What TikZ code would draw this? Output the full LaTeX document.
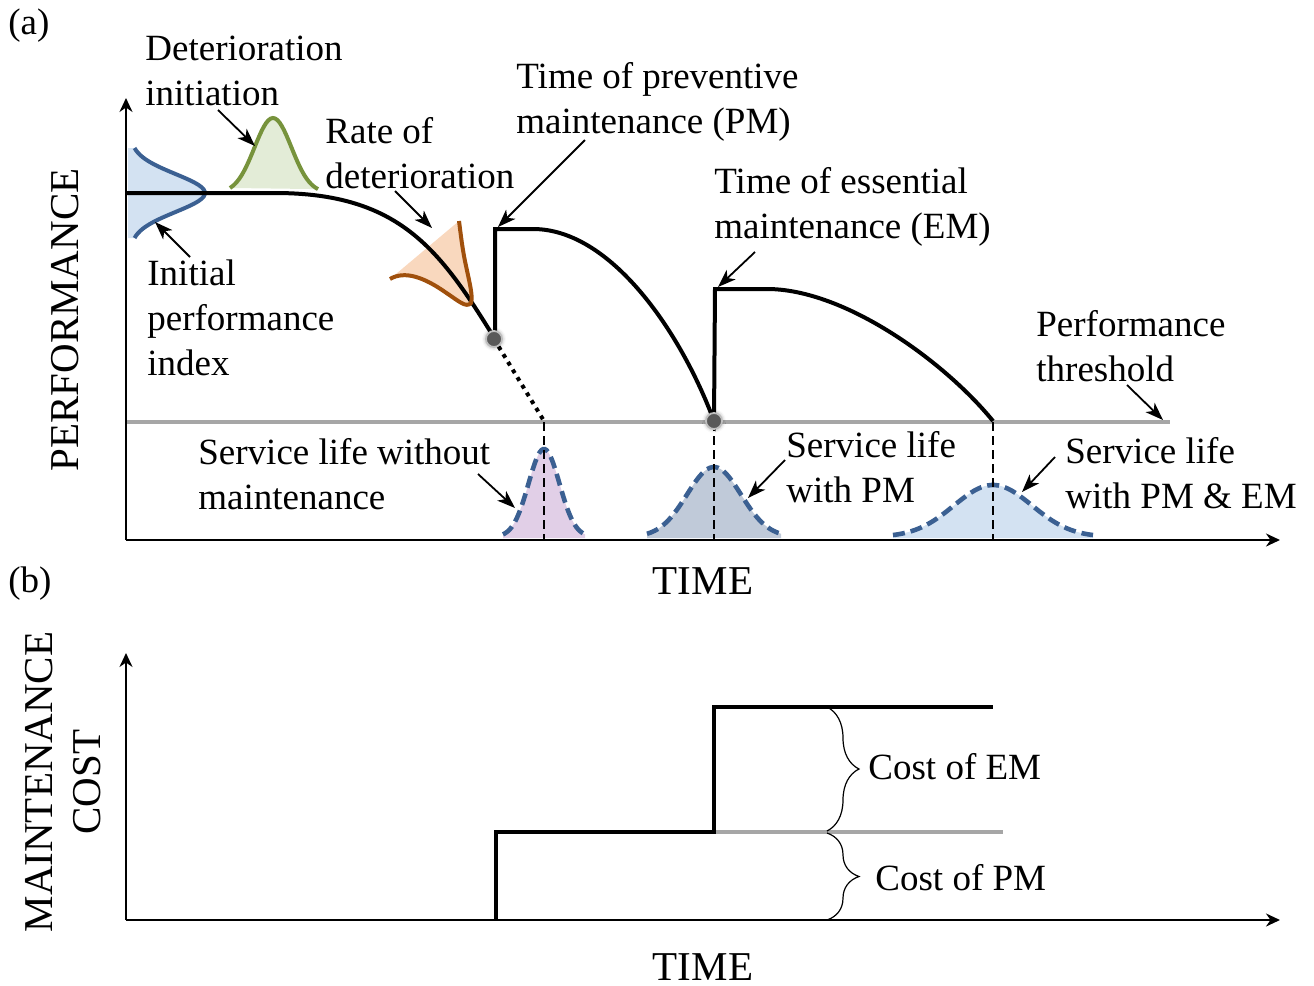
\documentclass[tikz,border=0pt]{standalone}
\usepackage{fontspec}
\setmainfont{Liberation Serif}
\usetikzlibrary{arrows.meta,decorations.pathreplacing,shadows.blur}
\definecolor{bellblue}{RGB}{59,96,146}
\definecolor{bluefill}{RGB}{211,226,242}
\definecolor{greenline}{RGB}{119,147,60}
\definecolor{greenfill}{RGB}{227,236,215}
\definecolor{orangeline}{RGB}{160,80,12}
\definecolor{orangefill}{RGB}{249,216,190}
\definecolor{lilacfill}{RGB}{225,207,231}
\definecolor{slatefill}{RGB}{192,202,217}
\definecolor{limitgray}{RGB}{166,166,166}
\tikzset{
    txt/.style={font=\fontsize{18.5}{22.5}\selectfont, inner sep=0pt, align=left, anchor=base west},
    axtxt/.style={font=\fontsize{20.5}{24}\selectfont, inner sep=0pt},
    perf/.style={line width=2pt},
    pointer/.style={-{Stealth[length=9pt,width=6.5pt,inset=2.5pt]}, line width=0.9pt},
    axisline/.style={-{Stealth[length=7pt,width=6.5pt]}, line width=1.2pt},
    lifebell/.style={draw=bellblue, line width=2.3pt, dash pattern=on 6pt off 3pt},
    guide/.style={line width=1.2pt, dash pattern=on 4.5pt off 2.5pt},
    hit/.style={circle, fill=black!65, draw=black!25, line width=0.9pt, minimum size=8pt, inner sep=0pt,
        blur shadow={shadow xshift=0pt, shadow yshift=0pt, shadow blur radius=2pt}}
}
\begin{document}
\begin{tikzpicture}[x=0.5pt, y=-0.5pt]
	\useasboundingbox (0,0) rectangle (1314,986);
	% (a) performance profile
	\draw[limitgray, line width=2pt] (126,422) -- (1170,422);
	\fill[bluefill] (128,148) -- plot[variable=\t, domain=148:238, samples=40] ({130+75*exp(-(\t-193)*(\t-193)/722)}, \t) -- (128,238) -- cycle;
	\draw[bellblue, line width=2pt] plot[variable=\t, domain=148:238, samples=40] ({130+75*exp(-(\t-193)*(\t-193)/722)}, \t);
	\fill[greenfill] plot[domain=230:318, samples=40] (\x, {193-75*exp(-(\x-273)*(\x-273)/684.5)}) -- cycle;
	\draw[greenline, line width=2pt] plot[domain=230:318, samples=40] (\x, {193-75*exp(-(\x-273)*(\x-273)/684.5)});
	\fill[orangefill] (390,279) .. controls (405,270) and (425,278) .. (445,292) .. controls (460,302) and (466,308) .. (471,303) .. controls (474,295) and (466,270) .. (463,250) .. controls (461,238) and (460,228) .. (459,221) -- cycle;
	\fill[lilacfill] (503,538) -- plot[domain=503:585, samples=50] (\x, {537-88*exp(-(\x-544)*(\x-544)/480)}) -- (585,538) -- cycle;
	\fill[slatefill] (647,538) -- plot[domain=647:781, samples=50] (\x, {537-70*exp(-(\x-714)*(\x-714)/1458)}) -- (781,538) -- cycle;
	\fill[bluefill] (893,538) -- plot[domain=893:1093, samples=60] (\x, {537-52*exp(-(\x-993)*(\x-993)/3042)}) -- (1093,538) -- cycle;
	\draw[lifebell] plot[domain=503:585, samples=50] (\x, {537-88*exp(-(\x-544)*(\x-544)/480)});
	\draw[lifebell] plot[domain=647:781, samples=50] (\x, {537-70*exp(-(\x-714)*(\x-714)/1458)});
	\draw[lifebell] plot[domain=893:1093, samples=60] (\x, {537-52*exp(-(\x-993)*(\x-993)/3042)});
	\draw[guide] (544,422) -- (544,540);
	\draw[guide] (714,422) -- (714,540);
	\draw[guide] (993,422) -- (993,540);
	\draw[perf] (126,193) -- (275,193) .. controls (400,193) and (440,250) .. (495,339) -- (495,229) -- (533,229)
		.. controls (610,229) and (680,330) .. (714,421) -- (715,289) -- (767,289)
		.. controls (845,289) and (945,362) .. (993,421);
	\draw[orangeline, line width=2pt] (390,279) .. controls (405,270) and (425,278) .. (445,292) .. controls (460,302) and (466,308) .. (471,303) .. controls (474,295) and (466,270) .. (463,250) .. controls (461,238) and (460,228) .. (459,221);
	\node[hit] (pmdot) at (494,339) {};
	\node[hit] (emdot) at (714,421) {};
	\coordinate (nolife) at (544,421);
	\draw[line width=2pt, dash pattern=on 2pt off 2.5pt] (pmdot) -- (nolife);
	\draw[axisline] (126,540) -- (126,98);
	\draw[axisline] (126,540) -- (1280,540);
	% labels
	\node[txt] (panela) at (8,34) {(a)};
	\node[txt] (initiation) at (145,105) {Deterioration\\initiation};
	\node[txt] (rate) at (325,188) {Rate of\\deterioration};
	\node[txt] (pmtime) at (516,133) {Time of preventive\\maintenance (PM)};
	\node[txt] (emtime) at (714,238) {Time of essential\\maintenance (EM)};
	\node[txt] (initial) at (147,375) {Initial\\performance\\index};
	\node[txt] (thresh) at (1036,381) {Performance\\threshold};
	\node[txt] (slnone) at (198,509) {Service life without\\maintenance};
	\node[txt] (slpm) at (786,502) {Service life\\with PM};
	\node[txt] (slpmem) at (1065,508) {Service life\\with PM \& EM};
	\node[axtxt, rotate=90, anchor=base] (perflbl) at (78,320) {PERFORMANCE};
	\node[axtxt, anchor=base] (timea) at (703,594) {TIME};
	\coordinate (initiationT) at (218,110); \coordinate (initiationH) at (255,146);
	\coordinate (initialT) at (190,257);    \coordinate (initialH) at (155,222);
	\coordinate (rateT) at (395,191);       \coordinate (rateH) at (432,228);
	\coordinate (pmT) at (585,140);         \coordinate (pmH) at (498,227);
	\coordinate (emT) at (755,252);         \coordinate (emH) at (718,287);
	\coordinate (threshT) at (1127,385);    \coordinate (threshH) at (1163,420);
	\coordinate (slnoneT) at (478,474);     \coordinate (slnoneH) at (515,508);
	\coordinate (slpmT) at (785,460);       \coordinate (slpmH) at (748,498);
	\coordinate (slpmemT) at (1055,457);    \coordinate (slpmemH) at (1022,492);
	\foreach \p in {initiation,initial,rate,pm,em,thresh,slnone,slpm,slpmem}
		\draw[pointer] (\p T) -- (\p H);
	% (b) maintenance cost
	\node[txt] (panelb) at (8,592) {(b)};
	\draw[limitgray, line width=1.6pt] (714,832) -- (1003,832);
	\draw[line width=1.6pt] (496,920) -- (496,832) -- (714,832) -- (714,707) -- (993,707);
	\draw[decorate, decoration={brace, amplitude=16pt}, line width=0.6pt] (827,707) -- (827,831);
	\draw[decorate, decoration={brace, amplitude=16pt}, line width=0.6pt] (827,833) -- (827,920);
	\node[txt] (costem) at (868,779) {Cost of EM};
	\node[txt] (costpm) at (875,890) {Cost of PM};
	\draw[axisline] (126,920) -- (126,653);
	\draw[axisline] (126,920) -- (1280,920);
	\node[axtxt, rotate=90, align=center] (costlbl) at (63,782) {MAINTENANCE\\COST};
	\node[axtxt, anchor=base] (timeb) at (703,980) {TIME};
\end{tikzpicture}
\end{document}
